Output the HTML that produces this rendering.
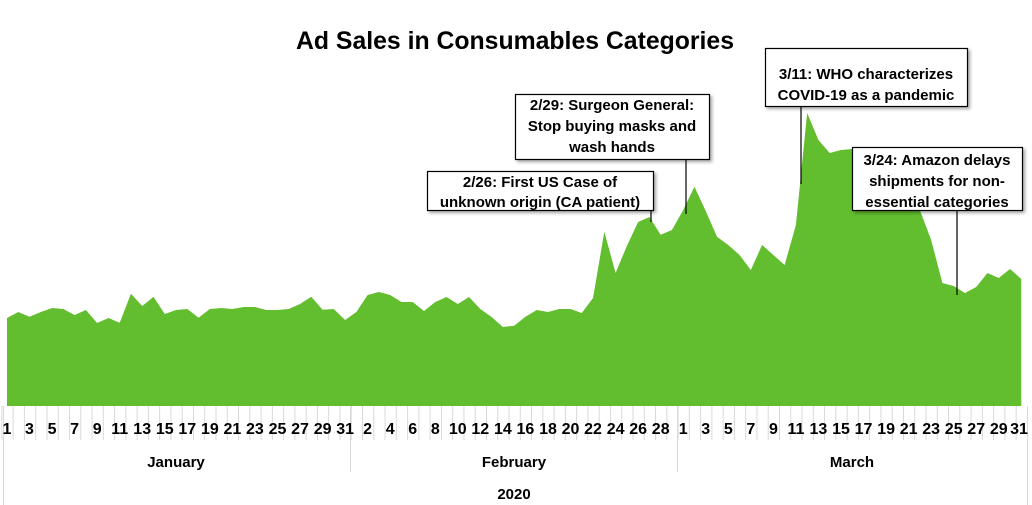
<!DOCTYPE html>
<html><head><meta charset="utf-8"><style>
html,body{margin:0;padding:0;background:#fff;}
svg{display:block;font-family:"Liberation Sans",sans-serif;font-weight:bold;}
</style></head><body>
<svg width="1032" height="505" viewBox="0 0 1032 505" xmlns="http://www.w3.org/2000/svg">
<defs>
<pattern id="tk" x="1.37" y="0" width="11.27" height="40" patternUnits="userSpaceOnUse">
<line x1="0.5" y1="0" x2="0.5" y2="40" stroke="#d9d9d9" stroke-width="1"/>
</pattern>
<filter id="sh" x="-10%" y="-10%" width="130%" height="140%"><feDropShadow dx="2" dy="2" stdDeviation="1.5" flood-color="#000" flood-opacity="0.35"/></filter>
</defs>
<text x="515" y="49" text-anchor="middle" font-size="25" textLength="438" lengthAdjust="spacingAndGlyphs">Ad Sales in Consumables Categories</text>
<g transform="translate(7,0) scale(11.27,1)">
<polygon fill="#63be2f" points="0,406 0,318 1,312 2,316.7 3,312 4,308 5,309 6,315 7,310 8,323 9,318 10,322.7 11,293.7 12,306 13,296.7 14,314 15,310 16,309 17,317.7 18,309 19,308 20,309 21,307 22,307 23,310 24,310 25,309 26,304 27,296.7 28,309.7 29,309 30,320 31,312 32,295 33,292 34,295 35,302 36,302 37,311 38,302 39,297 40,304 41,297 42,309 43,317 44,327 45,325.7 46,316.7 47,310 48,312 49,309 50,309 51,313 52,298 53,231.7 54,273 55,246 56,222 57,217 58,234.7 59,230 60,210 61,186.7 62,211 63,236.7 64,245 65,255 66,270 67,245 68,255 69,265 70,225 71,113 72,140 73,153 74,150 75,149 76,149 77,150 78,152 79,155 80,175 81,210 82,240 83,283 84,286 85,293 86,287 87,273 88,278 89,269 90,279 90,406"/>
</g>
<rect x="1" y="406" width="1022" height="34" fill="url(#tk)"/>
<line x1="3.5" y1="406" x2="3.5" y2="505" stroke="#d9d9d9"/>
<line x1="350.5" y1="406" x2="350.5" y2="472" stroke="#d9d9d9"/>
<line x1="677.5" y1="406" x2="677.5" y2="472" stroke="#d9d9d9"/>
<line x1="1027.5" y1="406" x2="1027.5" y2="505" stroke="#d9d9d9"/>
<g font-size="16" text-anchor="middle">
<text x="7" y="434">1</text><text x="29.5" y="434">3</text><text x="52.1" y="434">5</text><text x="74.6" y="434">7</text><text x="97.2" y="434">9</text><text x="119.7" y="434">11</text><text x="142.2" y="434">13</text><text x="164.8" y="434">15</text><text x="187.3" y="434">17</text><text x="209.9" y="434">19</text><text x="232.4" y="434">21</text><text x="254.9" y="434">23</text><text x="277.5" y="434">25</text><text x="300" y="434">27</text><text x="322.6" y="434">29</text><text x="345.1" y="434">31</text>
<text x="367.6" y="434">2</text><text x="390.2" y="434">4</text><text x="412.7" y="434">6</text><text x="435.3" y="434">8</text><text x="457.8" y="434">10</text><text x="480.3" y="434">12</text><text x="502.9" y="434">14</text><text x="525.4" y="434">16</text><text x="548" y="434">18</text><text x="570.5" y="434">20</text><text x="593" y="434">22</text><text x="615.6" y="434">24</text><text x="638.1" y="434">26</text><text x="660.7" y="434">28</text>
<text x="683.2" y="434">1</text><text x="705.7" y="434">3</text><text x="728.3" y="434">5</text><text x="750.8" y="434">7</text><text x="773.4" y="434">9</text><text x="795.9" y="434">11</text><text x="818.4" y="434">13</text><text x="841" y="434">15</text><text x="863.5" y="434">17</text><text x="886.1" y="434">19</text><text x="908.6" y="434">21</text><text x="931.1" y="434">23</text><text x="953.7" y="434">25</text><text x="976.2" y="434">27</text><text x="998.8" y="434">29</text><text x="1019" y="434">31</text>
</g>
<g font-size="15" text-anchor="middle">
<text x="176" y="467">January</text>
<text x="514" y="467">February</text>
<text x="852" y="467">March</text>
<text x="514" y="499">2020</text>
</g>
<g stroke="#000" stroke-width="1.2">
<line x1="651" y1="210" x2="651" y2="222"/>
<line x1="686" y1="159" x2="686" y2="214"/>
<line x1="801" y1="106" x2="801" y2="184"/>
<line x1="957" y1="210" x2="957" y2="295"/>
</g>
<g fill="#fff" stroke="#000" stroke-width="1.2" filter="url(#sh)">
<rect x="427.5" y="171.5" width="226" height="39"/>
<rect x="515.5" y="94.5" width="194" height="65"/>
<rect x="765.5" y="48.5" width="202" height="58"/>
<rect x="852.5" y="147.5" width="170" height="63"/>
</g>
<g font-size="15" text-anchor="middle">
<text x="540" y="187">2/26: First US Case of</text>
<text x="540" y="207">unknown origin (CA patient)</text>
<text x="612" y="110">2/29: Surgeon General:</text>
<text x="612" y="131">Stop buying masks and</text>
<text x="612" y="152">wash hands</text>
<text x="866" y="79">3/11: WHO characterizes</text>
<text x="866" y="100">COVID-19 as a pandemic</text>
<text x="937" y="165">3/24: Amazon delays</text>
<text x="937" y="186">shipments for non-</text>
<text x="937" y="207">essential categories</text>
</g>
</svg>
</body></html>
